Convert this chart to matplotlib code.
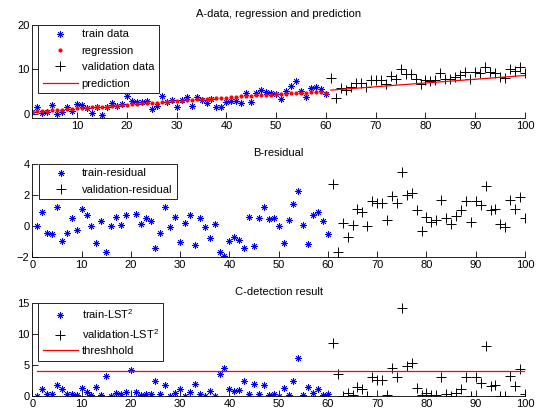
import matplotlib
matplotlib.use('Agg')
import matplotlib.pyplot as plt
from matplotlib.lines import Line2D
import numpy as np

plt.rcParams['font.family'] = ['Liberation Sans', 'DejaVu Sans']
plt.rcParams['font.size'] = 8
plt.rcParams['mathtext.default'] = 'regular'

# ---- data ----
x_train = np.arange(1, 61)
x_valid = np.arange(61, 101)

train_data = [0.3, 1.4, 0.1, 0.3, 2.0, 0.0, 0.4, 1.5, 0.5, 2.1, 2.0, 1.2, 0.2, 1.6, -0.3, 1.6,
              2.3, 1.7, 2.2, 3.9, 2.9, 2.6, 2.6, 2.8, 1.0, 1.7, 3.9, 2.6, 3.1, 1.5, 3.0, 3.7,
              1.7, 3.7, 3.1, 2.5, 3.4, 1.6, 1.5, 2.7, 2.8, 2.8, 2.4, 4.7, 2.7, 4.6, 5.4, 4.8,
              4.7, 4.5, 3.4, 5.2, 6.3, 7.3, 5.2, 3.7, 5.8, 6.0, 5.5, 4.4]
regression = [0.3, 0.5, 0.5, 0.6, 0.7, 0.8, 0.9, 1.0, 1.0, 1.2, 1.3, 1.3, 1.4, 1.5, 1.5, 1.6,
              1.7, 1.8, 1.9, 2.0, 2.1, 2.2, 2.3, 2.3, 2.4, 2.5, 2.6, 2.7, 2.8, 2.8, 2.9, 3.0,
              3.1, 3.2, 3.2, 3.3, 3.4, 3.5, 3.5, 3.6, 3.7, 3.8, 3.9, 4.0, 4.0, 4.1, 4.2, 4.3,
              4.3, 4.5, 4.4, 4.5, 4.6, 4.7, 4.7, 4.6, 4.9, 4.9, 4.9, 4.75]
valid_data = [8.1, 3.6, 5.7, 5.3, 5.9, 6.8, 6.8, 6.0, 7.6, 7.6, 7.6, 6.7, 8.5, 7.9, 10.0, 8.9,
              8.9, 7.7, 6.6, 7.5, 7.4, 7.6, 9.2, 7.8, 7.7, 8.3, 8.6, 9.3, 7.8, 9.3, 9.1, 10.5,
              9.3, 9.2, 8.2, 8.1, 10.0, 9.7, 10.6, 9.2]
pred_x = [61, 100]
pred_y = [5.3, 8.6]

train_resid = [0.0, 0.9, -0.45, -0.5, 1.22, -0.97, -0.43, 0.54, -0.26, 1.07, 0.7, 0.0, -1.1,
               0.32, -1.68, 0.0, 0.6, 0.05, 0.7, 2.0, 0.77, 0.13, 0.54, 0.34, -1.4, -0.45,
               1.22, -0.06, 0.58, -1.0, 0.17, 0.7, -1.22, 0.5, -0.06, -0.8, 0.13, -1.7, -1.96,
               -0.97, -0.7, -0.9, -1.44, 0.58, -1.27, 0.54, 1.2, 0.43, 0.54, 0.0, -1.1, 0.39,
               1.42, 2.26, 0.04, -1.14, 0.72, 0.93, 0.34, -0.54]
valid_resid = [2.7, -1.7, 0.17, -0.7, 0.06, 1.07, 0.9, 0.0, 1.6, 1.46, 1.46, 0.39, 1.94, 1.5,
               3.46, 2.0, 2.1, 1.0, -0.3, 0.6, 0.28, 0.37, 1.66, 0.5, 0.13, 0.65, 1.0, 1.6,
               0.24, 1.6, 1.33, 2.58, 1.03, 1.12, 0.13, -0.09, 1.68, 1.1, 1.85, 0.5]

train_lst = [0.05, 1.05, 0.4, 0.4, 1.85, 1.1, 0.3, 0.35, 0.1, 1.3, 0.7, 0.1, 1.45, 0.15, 3.25,
             0.05, 0.45, 0.3, 0.6, 4.25, 0.7, 0.15, 0.35, 0.3, 2.35, 0.25, 1.7, 0.05, 0.5, 1.05,
             0.05, 0.6, 1.9, 0.3, 0.05, 0.75, 0.05, 3.5, 4.5, 1.1, 0.8, 1.0, 2.4, 0.4, 1.95,
             0.3, 1.7, 0.2, 0.35, 0.05, 1.3, 0.2, 2.4, 6.1, 0.1, 1.4, 0.5, 1.05, 0.15, 0.3]
valid_lst = [8.6, 3.5, 0.05, 0.5, 0.1, 1.5, 1.05, 0.05, 3.05, 2.6, 2.6, 0.15, 4.5, 3.0, 14.2,
             4.8, 5.4, 1.3, 0.1, 0.45, 0.1, 0.15, 3.1, 0.3, 0.05, 0.5, 1.2, 3.1, 0.05, 3.1,
             2.05, 8.05, 1.6, 1.75, 0.05, 0.02, 3.3, 1.6, 4.35, 0.3]
threshold = 4.1

# matlab style asterisk marker (+ and x together)
star = (8, 2, 0)
ms = 4.8
star_kw = dict(linestyle='none', marker=star, color='b', markersize=ms, mew=0.6)
plus_kw = dict(linestyle='none', marker='+', color='k', markersize=6.5, mew=0.7)
red = (1.0, 0.0, 0.0)


def style_axes(ax, xlim, ylim, yticks, xticks):
    ax.set_xlim(xlim)
    ax.set_ylim(ylim)
    ax.set_yticks(yticks)
    ax.set_xticks(xticks)
    ax.spines['top'].set_visible(False)
    ax.spines['right'].set_visible(False)
    for s in ['left', 'bottom']:
        ax.spines[s].set_linewidth(0.6)
    ax.tick_params(direction='in', length=4, width=0.6, pad=2, labelsize=8)


def make_legend(ax, handles, x0, spacing=0.5):
    leg = ax.legend(handles=handles, loc='upper left', bbox_to_anchor=(x0, 1.0),
                    borderaxespad=0, fancybox=False, edgecolor='black', framealpha=1,
                    handlelength=3.2, handletextpad=0.3, labelspacing=spacing,
                    borderpad=0.4, fontsize=8)
    leg.get_frame().set_linewidth(0.6)
    leg.set_zorder(10)


fig = plt.figure(figsize=(5.44, 4.16), dpi=100)
left, width = 0.0594, 0.9057

# A - data, regression and prediction
ax1 = fig.add_axes([left, 0.7163, width, 0.2236])
ax1.plot(x_train, train_data, **star_kw)
ax1.plot(x_train, regression, linestyle='none', marker='.', color=red, markersize=4)
ax1.plot(x_valid, valid_data, **plus_kw)
ax1.plot(pred_x, pred_y, color=red, linewidth=0.9)
style_axes(ax1, (1, 100), (-1, 20), [0, 10, 20], np.arange(10, 101, 10))
ax1.set_title('A-data, regression and prediction', fontsize=8, pad=6)
make_legend(ax1, [
    Line2D([], [], label='train data', **star_kw),
    Line2D([], [], linestyle='none', marker='.', color=red, markersize=4, label='regression'),
    Line2D([], [], label='validation data', **plus_kw),
    Line2D([], [], color=red, linewidth=0.9, label='prediction'),
], 0.012, 0.58)

# B - residual
ax2 = fig.add_axes([left, 0.3822, width, 0.2236])
ax2.plot(x_train, train_resid, **star_kw)
ax2.plot(x_valid, valid_resid, **plus_kw)
style_axes(ax2, (0, 100), (-2, 4), [-2, 0, 2, 4], np.arange(0, 101, 10))
ax2.set_title('B-residual', fontsize=8, pad=6)
make_legend(ax2, [
    Line2D([], [], label='train-residual', **star_kw),
    Line2D([], [], label='validation-residual', **plus_kw),
], 0.013, 0.55)

# C - detection result
ax3 = fig.add_axes([left, 0.0481, width, 0.2236])
ax3.plot(x_train, train_lst, **star_kw)
ax3.plot(x_valid, valid_lst, **plus_kw)
ax3.axhline(threshold, xmin=0.01, xmax=1.0, color=red, linewidth=0.9)
style_axes(ax3, (0, 100), (0, 15), [0, 5, 10, 15], np.arange(0, 101, 10))
ax3.set_title('C-detection result', fontsize=8, pad=6)
make_legend(ax3, [
    Line2D([], [], label='train-LST$^2$', **star_kw),
    Line2D([], [], label='validation-LST$^2$', **plus_kw),
    Line2D([], [], color=red, linewidth=0.9, label='threshhold'),
], 0.012, 0.5)

fig.savefig('out.png', dpi=100)
